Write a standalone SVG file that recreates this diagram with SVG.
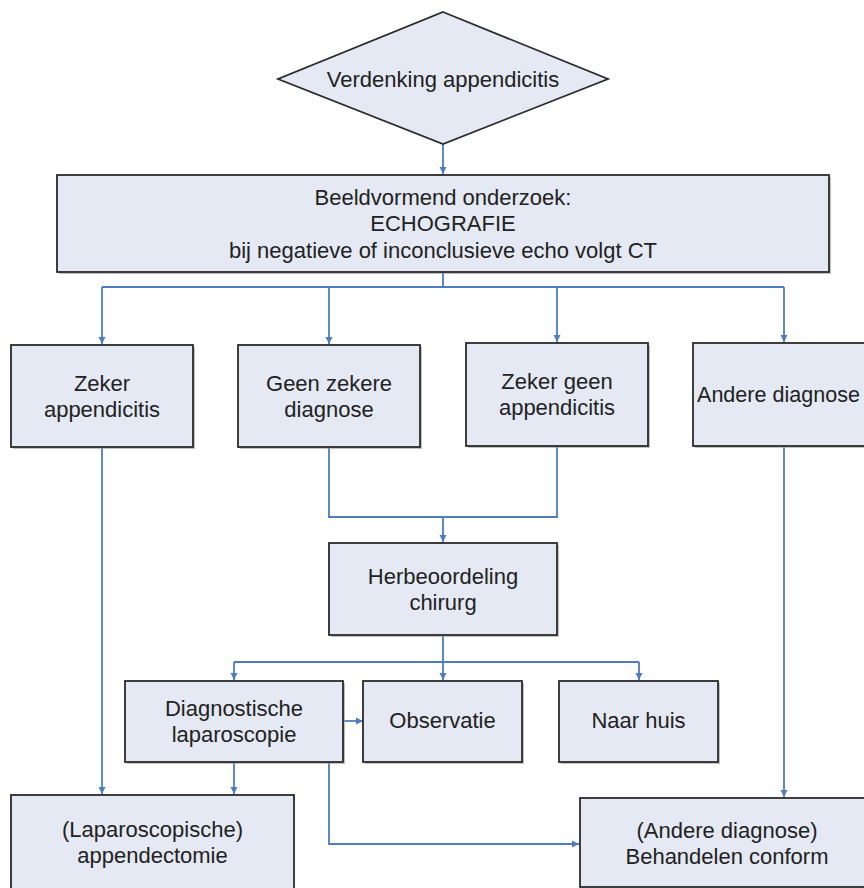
<svg xmlns="http://www.w3.org/2000/svg" width="864" height="888" viewBox="0 0 864 888">
<defs>
<marker id="ah" viewBox="0 0 10 10" refX="10" refY="5" markerWidth="4" markerHeight="4" orient="auto" markerUnits="strokeWidth">
<path d="M0,0 L10,5 L0,10 z" fill="#4f7cbf"/>
</marker>
<style>
.box{fill:#e4e9f3;stroke:#2b2b2b;stroke-width:1.8}
.sh{fill:#9a9a9a;opacity:0.6}
.t{font-family:"Liberation Sans",Arial,sans-serif;font-size:22px;fill:#222;text-anchor:middle}
.c{fill:none;stroke:#4f7cbf;stroke-width:1.8}
.a{marker-end:url(#ah)}
</style>
</defs>
<rect width="864" height="888" fill="#ffffff"/>

<g id="connectors">
<path class="c a" d="M443,144 V174"/>
<path class="c" d="M443,272 V287 M102,287 H784"/>
<path class="c a" d="M102,287 V344"/>
<path class="c a" d="M329,287 V344"/>
<path class="c a" d="M557,287 V342"/>
<path class="c a" d="M784,287 V342"/>
<path class="c" d="M329,447 V517 H557 V446"/>
<path class="c a" d="M443,517 V542"/>
<path class="c" d="M443,635 V662 M234,662 H639"/>
<path class="c a" d="M234,662 V680"/>
<path class="c a" d="M443,662 V680"/>
<path class="c a" d="M639,662 V680"/>
<path class="c a" d="M343,721 H363"/>
<path class="c a" d="M234,762 V794"/>
<path class="c a" d="M329,762 V844 H579"/>
<path class="c a" d="M102,448 V794"/>
<path class="c a" d="M784,447 V797"/>
</g>

<g id="n-verdenking">
<polygon class="box" points="443,12 608,79 443,144 278,79"/>
<text class="t" x="443" y="87">Verdenking appendicitis</text>
</g>

<g id="n-beeldvormend">
<rect class="sh" x="59" y="177" width="772" height="97"/>
<rect class="box" x="57" y="175" width="772" height="97"/>
<text class="t" x="443" y="205">Beeldvormend onderzoek:</text>
<text class="t" x="443" y="231">ECHOGRAFIE</text>
<text class="t" x="443" y="258">bij negatieve of inconclusieve echo volgt CT</text>
</g>

<g id="n-zeker">
<rect class="sh" x="13" y="347" width="182" height="102"/>
<rect class="box" x="11" y="345" width="182" height="102"/>
<text class="t" x="102" y="391">Zeker</text>
<text class="t" x="102" y="417">appendicitis</text>
</g>

<g id="n-geen-zekere">
<rect class="sh" x="240" y="347" width="182" height="102"/>
<rect class="box" x="238" y="345" width="182" height="102"/>
<text class="t" x="329" y="391">Geen zekere</text>
<text class="t" x="329" y="417">diagnose</text>
</g>

<g id="n-zeker-geen">
<rect class="sh" x="468" y="345" width="182" height="103"/>
<rect class="box" x="466" y="343" width="182" height="103"/>
<text class="t" x="557" y="389">Zeker geen</text>
<text class="t" x="557" y="415">appendicitis</text>
</g>

<g id="n-andere">
<rect class="sh" x="695" y="345" width="182" height="103"/>
<rect class="box" x="693" y="343" width="182" height="103"/>
<text class="t" x="697" y="402" style="text-anchor:start" textLength="163" lengthAdjust="spacingAndGlyphs">Andere diagnose</text>
</g>

<g id="n-herbeoordeling">
<rect class="sh" x="331" y="545" width="228" height="92"/>
<rect class="box" x="329" y="543" width="228" height="92"/>
<text class="t" x="443" y="584">Herbeoordeling</text>
<text class="t" x="443" y="610">chirurg</text>
</g>

<g id="n-diagnostische">
<rect class="sh" x="127" y="683" width="218" height="81"/>
<rect class="box" x="125" y="681" width="218" height="81"/>
<text class="t" x="234" y="716">Diagnostische</text>
<text class="t" x="234" y="742">laparoscopie</text>
</g>

<g id="n-observatie">
<rect class="sh" x="365" y="683" width="159" height="81"/>
<rect class="box" x="363" y="681" width="159" height="81"/>
<text class="t" x="442.5" y="728">Observatie</text>
</g>

<g id="n-naar-huis">
<rect class="sh" x="561" y="683" width="159" height="81"/>
<rect class="box" x="559" y="681" width="159" height="81"/>
<text class="t" x="638.5" y="728">Naar huis</text>
</g>

<g id="n-appendectomie">
<rect class="box" x="11" y="795" width="283" height="100"/>
<text class="t" x="152.5" y="837">(Laparoscopische)</text>
<text class="t" x="152.5" y="863">appendectomie</text>
</g>

<g id="n-behandelen">
<rect class="box" x="580" y="798" width="294" height="89"/>
<text class="t" x="727" y="838">(Andere diagnose)</text>
<text class="t" x="727" y="864">Behandelen conform</text>
</g>
</svg>
